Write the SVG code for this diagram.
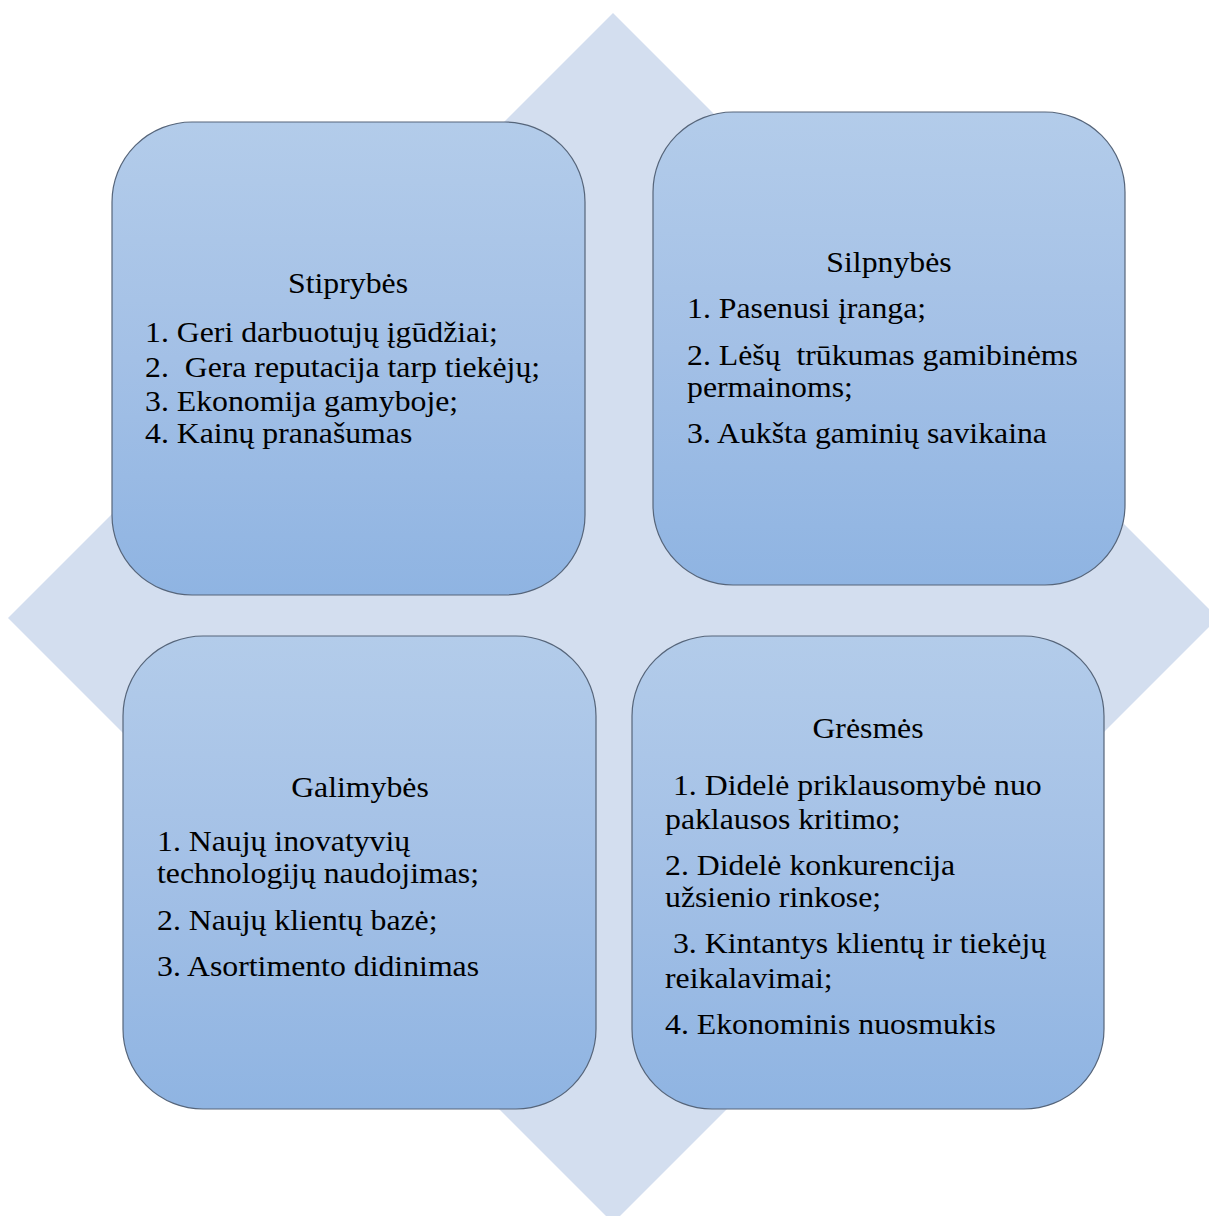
<svg xmlns="http://www.w3.org/2000/svg" width="1209" height="1216" viewBox="0 0 1209 1216">
  <defs>
    <linearGradient id="boxFill" x1="0" y1="0" x2="0" y2="1">
      <stop offset="0" stop-color="#B3CCEA"/>
      <stop offset="0.5" stop-color="#A3C0E6"/>
      <stop offset="1" stop-color="#8FB4E2"/>
    </linearGradient>
  </defs>
  <style>
    .box { fill: url(#boxFill); stroke: #56657A; stroke-width: 1.2; }
    .t { font-family: "Liberation Serif", "Times New Roman", serif; font-size: 29px; fill: #000; white-space: pre; }
    .title { text-anchor: middle; }
  </style>
  <rect width="1209" height="1216" fill="#FFFFFF"/>
  <!-- background diamond -->
  <polygon points="613,13 1218,618 613,1223 8,618" fill="#D3DEEF"/>

  <!-- text lines are set in a slightly widened serif: translate to the anchor, then stretch horizontally -->
  <g id="strengths">
    <rect class="box" x="112" y="122" width="473" height="473" rx="80" ry="80"/>
    <text class="t title" transform="translate(348 293) scale(1.096 1)">Stiprybės</text>
    <text class="t" transform="translate(145 342) scale(1.096 1)">1. Geri darbuotujų įgūdžiai;</text>
    <text class="t" transform="translate(145 377) scale(1.096 1)">2.  Gera reputacija tarp tiekėjų;</text>
    <text class="t" transform="translate(145 411) scale(1.096 1)">3. Ekonomija gamyboje;</text>
    <text class="t" transform="translate(145 443) scale(1.096 1)">4. Kainų pranašumas</text>
  </g>

  <g id="weaknesses">
    <rect class="box" x="653" y="112" width="472" height="473" rx="80" ry="80"/>
    <text class="t title" transform="translate(889 272) scale(1.096 1)">Silpnybės</text>
    <text class="t" transform="translate(687 318) scale(1.096 1)">1. Pasenusi įranga;</text>
    <text class="t" transform="translate(687 365) scale(1.096 1)">2. Lėšų  trūkumas gamibinėms</text>
    <text class="t" transform="translate(687 397) scale(1.096 1)">permainoms;</text>
    <text class="t" transform="translate(687 443) scale(1.096 1)">3. Aukšta gaminių savikaina</text>
  </g>

  <g id="opportunities">
    <rect class="box" x="123" y="636" width="473" height="473" rx="80" ry="80"/>
    <text class="t title" transform="translate(360 797) scale(1.096 1)">Galimybės</text>
    <text class="t" transform="translate(157 851) scale(1.096 1)">1. Naujų inovatyvių</text>
    <text class="t" transform="translate(157 883) scale(1.096 1)">technologijų naudojimas;</text>
    <text class="t" transform="translate(157 930) scale(1.096 1)">2. Naujų klientų bazė;</text>
    <text class="t" transform="translate(157 976) scale(1.096 1)">3. Asortimento didinimas</text>
  </g>

  <g id="threats">
    <rect class="box" x="632" y="636" width="472" height="473" rx="80" ry="80"/>
    <text class="t title" transform="translate(868 738) scale(1.096 1)">Grėsmės</text>
    <text class="t" transform="translate(665 795) scale(1.096 1)"> 1. Didelė priklausomybė nuo</text>
    <text class="t" transform="translate(665 829) scale(1.096 1)">paklausos kritimo;</text>
    <text class="t" transform="translate(665 875) scale(1.096 1)">2. Didelė konkurencija</text>
    <text class="t" transform="translate(665 907) scale(1.096 1)">užsienio rinkose;</text>
    <text class="t" transform="translate(665 953) scale(1.096 1)"> 3. Kintantys klientų ir tiekėjų</text>
    <text class="t" transform="translate(665 988) scale(1.096 1)">reikalavimai;</text>
    <text class="t" transform="translate(665 1034) scale(1.096 1)">4. Ekonominis nuosmukis</text>
  </g>

  <g id="connectors"/>
</svg>
